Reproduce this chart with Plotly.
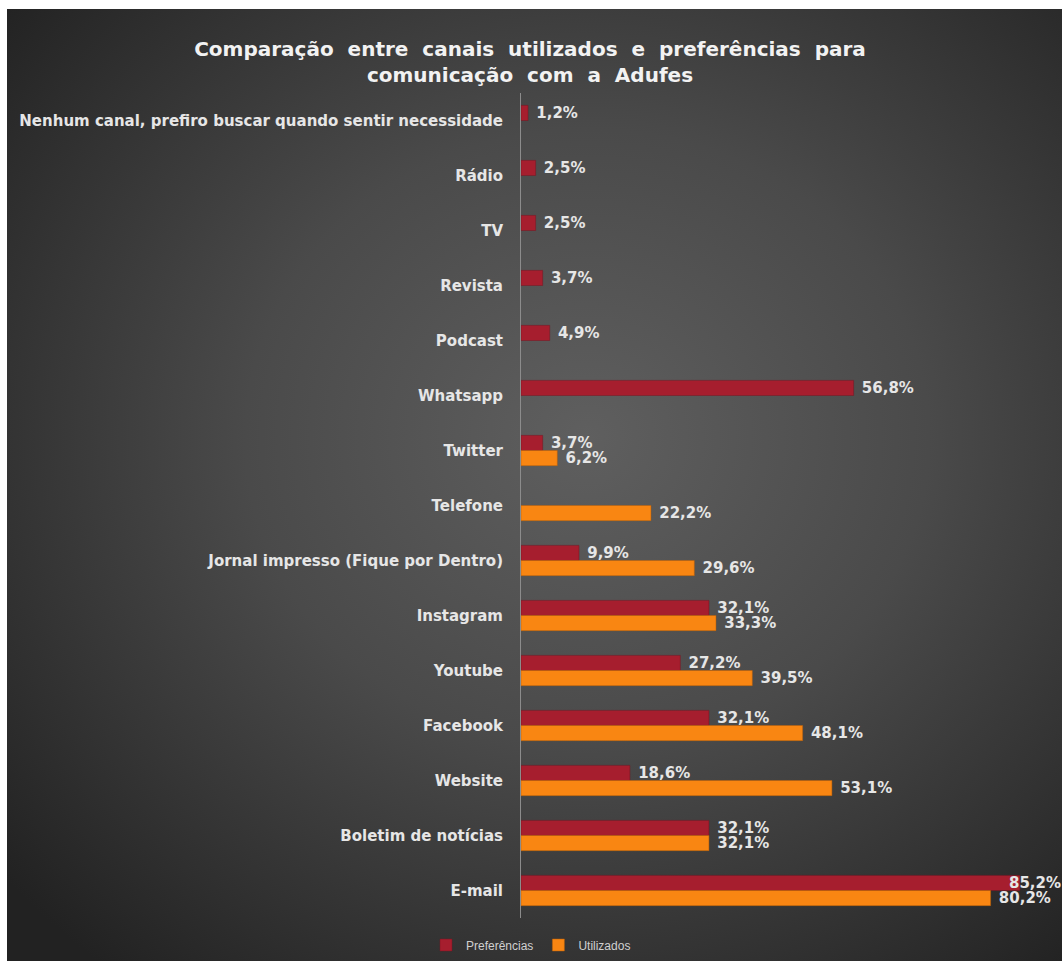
import base64
import plotly.graph_objects as go

categories = [
    "Nenhum canal, prefiro buscar quando sentir necessidade",
    "Rádio",
    "TV",
    "Revista",
    "Podcast",
    "Whatsapp",
    "Twitter",
    "Telefone",
    "Jornal impresso (Fique por Dentro)",
    "Instagram",
    "Youtube",
    "Facebook",
    "Website",
    "Boletim de notícias",
    "E-mail",
]
preferencias = [1.2, 2.5, 2.5, 3.7, 4.9, 56.8, 3.7, None, 9.9, 32.1, 27.2, 32.1, 18.6, 32.1, 85.2]
utilizados = [None, None, None, None, None, None, 6.2, 22.2, 29.6, 33.3, 39.5, 48.1, 53.1, 32.1, 80.2]

W, H = 1063, 961
L, R, T, B = 521, 15, 93, 43
pw, ph = W - L - R, H - T - B

svg = '''<svg xmlns="http://www.w3.org/2000/svg" width="1055" height="952" viewBox="0 0 1055 952" preserveAspectRatio="none">
<defs><radialGradient id="g" cx="0.55" cy="0.45" r="0.72" fx="0.55" fy="0.45">
<stop offset="0" stop-color="#5f5f5f"/>
<stop offset="0.45" stop-color="#4a4a4a"/>
<stop offset="1" stop-color="#222222"/>
</radialGradient></defs>
<rect x="0" y="0" width="1055" height="952" fill="url(#g)"/>
</svg>'''
src = "data:image/svg+xml;base64," + base64.b64encode(svg.encode()).decode()


def px_x(p):
    return (p - L) / pw


def px_y(p):
    return (H - B - p) / ph


def fmt(v):
    return f"{v:.1f}".replace(".", ",") + "%"


FONT = "DejaVu Sans, Liberation Sans, Arial"
label_font = dict(family=FONT, size=15, color="#e6e6e6", weight="bold")

# last preference label (E-mail) is drawn as annotation so it stays inside the chart
pref_pos = ["outside"] * (len(preferencias) - 1) + ["none"]

fig = go.Figure()
fig.add_trace(go.Bar(
    name="Preferências", y=categories, x=preferencias, orientation="h",
    marker=dict(color="#a61e2e", line=dict(color="#7a1520", width=0.5)),
    texttemplate="\u00a0%{x:.1f}%", textposition=pref_pos, textfont=label_font,
    constraintext="none", cliponaxis=False,
))
fig.add_trace(go.Bar(
    name="Utilizados", y=categories, x=utilizados, orientation="h",
    marker=dict(color="#f98612", line=dict(color="#b85e08", width=0.5)),
    texttemplate="\u00a0%{x:.1f}%", textposition="outside", textfont=label_font,
    constraintext="none", cliponaxis=False,
))

fig.add_annotation(
    x=preferencias[-1], y=categories[-1], xref="x", yref="y",
    text=fmt(preferencias[-1]), showarrow=False,
    xanchor="left", yanchor="middle", xshift=-13, yshift=8,
    font=label_font,
)

fig.update_layout(
    width=W, height=H,
    margin=dict(l=L, r=R, t=T, b=B, autoexpand=False),
    paper_bgcolor="white",
    plot_bgcolor="rgba(0,0,0,0)",
    separators=",.",
    barmode="group",
    bargap=0.45,
    bargroupgap=0,
    title=dict(
        text="Comparação  entre  canais  utilizados  e  preferências  para<br>comunicação  com  a  Adufes",
        x=530 / W, xanchor="center", xref="container",
        y=1 - 56 / H, yanchor="middle", yref="container",
        font=dict(family=FONT, size=20, color="#f2f2f2", weight="bold"),
    ),
    showlegend=True,
    legend=dict(
        orientation="h", x=531 / W, xanchor="center", xref="container",
        y=1 - 945 / H, yanchor="middle", yref="container",
        font=dict(family="Liberation Sans, Arial", size=12, color="#d0d0d0"),
        bgcolor="rgba(0,0,0,0)", itemwidth=30,
    ),
    images=[dict(
        source=src, xref="paper", yref="paper",
        x=px_x(7), y=px_y(9), sizex=(1062 - 7) / pw, sizey=(961 - 9) / ph,
        xanchor="left", yanchor="top", sizing="stretch", layer="below",
    )],
)
fig.update_xaxes(range=[0, 90], visible=False, showgrid=False, zeroline=False)
fig.update_yaxes(
    autorange="reversed", showgrid=False, zeroline=False,
    showline=True, linecolor="#8c8c8c", linewidth=1,
    ticks="", ticklabelstandoff=14,
    tickfont=label_font,
)

fig.write_html("out.html")
